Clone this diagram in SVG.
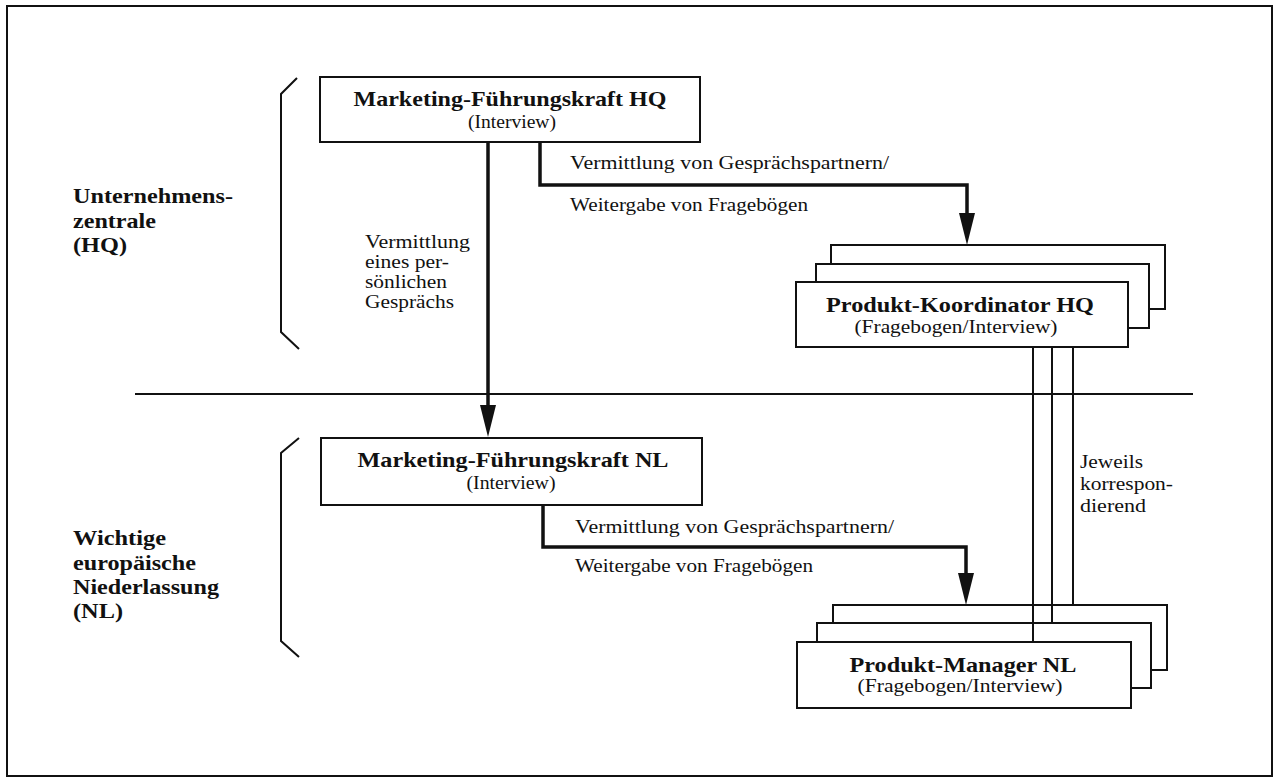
<svg xmlns="http://www.w3.org/2000/svg" width="1277" height="779" viewBox="0 0 1277 779">
<defs>
<marker id="ah" viewBox="0 0 32 16" refX="10" refY="8" markerWidth="32" markerHeight="16" markerUnits="userSpaceOnUse" orient="auto">
<path d="M0,0 L32,8 L0,16 Z" fill="#111"/>
</marker>
<style>
.box{fill:#fff;stroke:#111;stroke-width:2}
.ln{fill:none;stroke:#111;stroke-width:2}
.con{fill:none;stroke:#111;stroke-width:3.5}
.t{font-family:"Liberation Serif",serif;font-weight:bold;font-size:21px;fill:#111}
.s{font-family:"Liberation Serif",serif;font-size:18px;fill:#111}
.r{font-family:"Liberation Serif",serif;font-size:19px;fill:#111}
.c{text-anchor:middle}
</style>
</defs>
<rect x="7" y="6" width="1265" height="770" fill="#fff" stroke="#111" stroke-width="2"/>

<g id="region-hq">
<polyline class="ln" points="297,78 281,94 281,332 299,349"/>
<text class="t" x="73" y="203" textLength="160" lengthAdjust="spacingAndGlyphs">Unternehmens-</text>
<text class="t" x="73" y="228" textLength="83" lengthAdjust="spacingAndGlyphs">zentrale</text>
<text class="t" x="73" y="252" textLength="54" lengthAdjust="spacingAndGlyphs">(HQ)</text>
</g>
<g id="region-nl">
<polyline class="ln" points="299,438 281,453 281,641 299,657"/>
<text class="t" x="73" y="545" textLength="93" lengthAdjust="spacingAndGlyphs">Wichtige</text>
<text class="t" x="73" y="570" textLength="123" lengthAdjust="spacingAndGlyphs">europäische</text>
<text class="t" x="73" y="594" textLength="146" lengthAdjust="spacingAndGlyphs">Niederlassung</text>
<text class="t" x="73" y="618" textLength="50" lengthAdjust="spacingAndGlyphs">(NL)</text>
</g>
<line id="divider" x1="135" y1="394" x2="1193" y2="394" stroke="#111" stroke-width="1.8"/>

<g id="connectors">
<path class="con" d="M488,142 V415" marker-end="url(#ah)"/>
<path class="con" d="M540,142 V185 H967 V223" marker-end="url(#ah)"/>
<path class="con" d="M543,505 V547 H966 V583" marker-end="url(#ah)"/>
<text class="r" x="365" y="248" textLength="105" lengthAdjust="spacingAndGlyphs">Vermittlung</text>
<text class="r" x="365" y="268" textLength="84" lengthAdjust="spacingAndGlyphs">eines per-</text>
<text class="r" x="365" y="288" textLength="82" lengthAdjust="spacingAndGlyphs">sönlichen</text>
<text class="r" x="365" y="308" textLength="89" lengthAdjust="spacingAndGlyphs">Gesprächs</text>
<text class="r" x="570" y="169" textLength="319" lengthAdjust="spacingAndGlyphs">Vermittlung von Gesprächspartnern/</text>
<text class="r" x="570" y="211" textLength="238" lengthAdjust="spacingAndGlyphs">Weitergabe von Fragebögen</text>
<text class="r" x="575" y="533" textLength="319" lengthAdjust="spacingAndGlyphs">Vermittlung von Gesprächspartnern/</text>
<text class="r" x="575" y="572" textLength="238" lengthAdjust="spacingAndGlyphs">Weitergabe von Fragebögen</text>
<text class="r" x="1080" y="468" textLength="63" lengthAdjust="spacingAndGlyphs">Jeweils</text>
<text class="r" x="1080" y="490" textLength="93" lengthAdjust="spacingAndGlyphs">korrespon-</text>
<text class="r" x="1080" y="512" textLength="66" lengthAdjust="spacingAndGlyphs">dierend</text>
</g>

<g id="marketing-hq">
<rect class="box" x="320" y="77" width="380" height="65"/>
<text class="t c" x="510" y="106" textLength="313" lengthAdjust="spacingAndGlyphs">Marketing-Führungskraft HQ</text>
<text class="s c" x="512" y="128" textLength="88" lengthAdjust="spacingAndGlyphs">(Interview)</text>
</g>

<g id="marketing-nl">
<rect class="box" x="321" y="438" width="381" height="67"/>
<text class="t c" x="513" y="467" textLength="311" lengthAdjust="spacingAndGlyphs">Marketing-Führungskraft NL</text>
<text class="s c" x="511" y="489" textLength="89" lengthAdjust="spacingAndGlyphs">(Interview)</text>
</g>

<g id="produkt-koordinator-hq">
<rect class="box" x="831" y="245" width="334" height="64"/>
<rect class="box" x="816" y="264" width="333" height="64"/>
<rect class="box" x="796" y="282" width="332" height="65"/>
<text class="t c" x="960" y="312" textLength="268" lengthAdjust="spacingAndGlyphs">Produkt-Koordinator HQ</text>
<text class="s c" x="956" y="333" textLength="203" lengthAdjust="spacingAndGlyphs">(Fragebogen/Interview)</text>
</g>

<g id="produkt-manager-nl">
<rect class="box" x="833" y="605" width="334" height="65"/>
<rect class="box" x="817" y="623" width="334" height="65"/>
<rect class="box" x="797" y="642" width="334" height="66"/>
<text class="t c" x="963" y="672" textLength="227" lengthAdjust="spacingAndGlyphs">Produkt-Manager NL</text>
<text class="s c" x="960" y="692" textLength="205" lengthAdjust="spacingAndGlyphs">(Fragebogen/Interview)</text>
</g>

<g id="correspondence-lines">
<line class="ln" x1="1033" y1="347" x2="1033" y2="642"/>
<line class="ln" x1="1052" y1="347" x2="1052" y2="623"/>
<line class="ln" x1="1073" y1="347" x2="1073" y2="605"/>
</g>
</svg>
